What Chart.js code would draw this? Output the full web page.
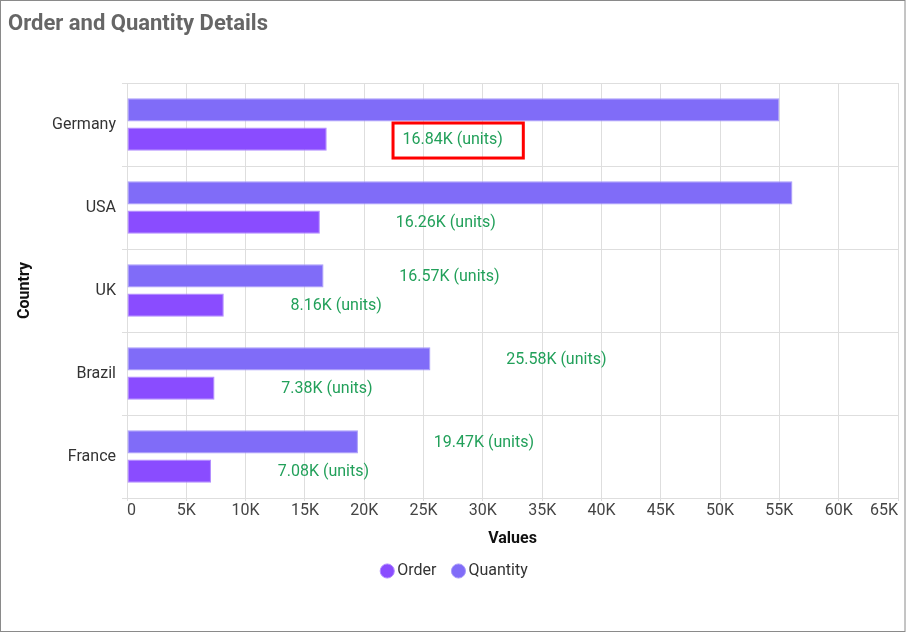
<!DOCTYPE html>
<html>
<head>
<meta charset="utf-8">
<script src="https://cdn.jsdelivr.net/npm/chart.js@4.4.1/dist/chart.umd.min.js"></script>
<style>
    html, body { margin: 0; padding: 0; background: #fff; }
    #wrap { position: relative; width: 906px; height: 632px; }
</style>
</head>
<body>
<div id="wrap"><canvas id="chart" width="906" height="632"></canvas></div>
<script>
// Data
const countries = ['Germany', 'USA', 'UK', 'Brazil', 'France'];
const orderValues = [16840, 16260, 8160, 7380, 7080];
const quantityValues = [55000, 56100, 16570, 25580, 19470];
const xMax = 65000;
const xStep = 5000;
const highlightCountry = 'Germany';

const labelColor = '#22a05a';
const gridColor = '#dedede';
const fontFamily = 'Roboto';

// Frame + title
const framePlugin = {
    id: 'frame',
    beforeDraw(chart) {
        const ctx = chart.ctx;
        ctx.save();
        ctx.fillStyle = '#fff';
        ctx.fillRect(0, 0, chart.width, chart.height);
        ctx.strokeStyle = '#8a8a8a';
        ctx.lineWidth = 1;
        ctx.strokeRect(0.5, 0.5, chart.width - 1.5, chart.height - 1);
        ctx.fillStyle = '#666';
        ctx.font = 'bold 22px ' + fontFamily;
        ctx.textBaseline = 'middle';
        ctx.fillText('Order and Quantity Details', 8, 24);
        ctx.restore();
    }
};

// Value labels, placed to the right of each bar
const valueLabelPlugin = {
    id: 'valueLabels',
    afterDatasetsDraw(chart) {
        const ctx = chart.ctx;
        const area = chart.chartArea;
        ctx.save();
        ctx.font = '16px ' + fontFamily;
        ctx.textBaseline = 'middle';
        chart.data.datasets.forEach((ds, di) => {
            const meta = chart.getDatasetMeta(di);
            meta.data.forEach((bar, i) => {
                const text = (ds.data[i] / 1000).toFixed(2) + 'K (units)';
                const w = ctx.measureText(text).width;
                const left = bar.x + w - 24.5;
                if (left + w > area.right) return;
                ctx.fillStyle = labelColor;
                ctx.fillText(text, left, bar.y + 1);
                if (ds.label === 'Order' && countries[i] === highlightCountry) {
                    ctx.strokeStyle = '#ff0000';
                    ctx.lineWidth = 3;
                    ctx.strokeRect(left - 9.5, bar.y - 16, w + 30, 35);
                }
            });
        });
        ctx.restore();
    }
};

const ctx = document.getElementById('chart').getContext('2d');
const chart = new Chart(ctx, {
    type: 'bar',
    data: {
        labels: countries,
        datasets: [
            {
                label: 'Quantity',
                data: quantityValues,
                backgroundColor: '#806cf8',
                borderColor: '#a99cf9',
                borderWidth: 1,
                borderSkipped: false,
                categoryPercentage: 0.7,
                barPercentage: 0.8
            },
            {
                label: 'Order',
                data: orderValues,
                backgroundColor: '#8a4cff',
                borderColor: '#b28cff',
                borderWidth: 1,
                borderSkipped: false,
                categoryPercentage: 0.7,
                barPercentage: 0.8
            }
        ]
    },
    options: {
        indexAxis: 'y',
        responsive: false,
        animation: false,
        devicePixelRatio: 1,
        layout: {
            padding: { top: 83, left: 15, right: 8, bottom: 43 }
        },
        plugins: {
            legend: {
                position: 'bottom',
                reverse: true,
                labels: {
                    usePointStyle: true,
                    pointStyle: 'circle',
                    boxWidth: 4,
                    boxHeight: 10,
                    padding: 20,
                    color: '#333',
                    font: { family: fontFamily, size: 16 }
                }
            },
            tooltip: { enabled: false }
        },
        scales: {
            x: {
                min: 0,
                max: xMax,
                afterFit(scale) { scale.height = 45; },
                border: { color: gridColor },
                grid: {
                    color: gridColor,
                    tickLength: 3
                },
                ticks: {
                    stepSize: xStep,
                    padding: 0,
                    align: 'inner',
                    maxRotation: 0,
                    color: '#444',
                    font: { family: fontFamily, size: 16 },
                    callback: (v) => v === 0 ? '0' : (v / 1000) + 'K'
                },
                title: {
                    display: true,
                    text: 'Values',
                    color: '#111',
                    padding: { top: 0, bottom: -6 },
                    font: { family: fontFamily, size: 16, weight: 'bold' }
                }
            },
            y: {
                afterFit(scale) { scale.width = 112; },
                border: { color: gridColor },
                grid: {
                    color: gridColor,
                    offset: true,
                    tickLength: 5
                },
                ticks: {
                    padding: 6,
                    color: '#333',
                    font: { family: fontFamily, size: 16 }
                },
                title: {
                    display: true,
                    text: 'Country',
                    color: '#111',
                    padding: { top: 0, bottom: 0 },
                    font: { family: fontFamily, size: 16, weight: 'bold' }
                }
            }
        }
    },
    plugins: [framePlugin, valueLabelPlugin]
});
</script>
</body>
</html>
